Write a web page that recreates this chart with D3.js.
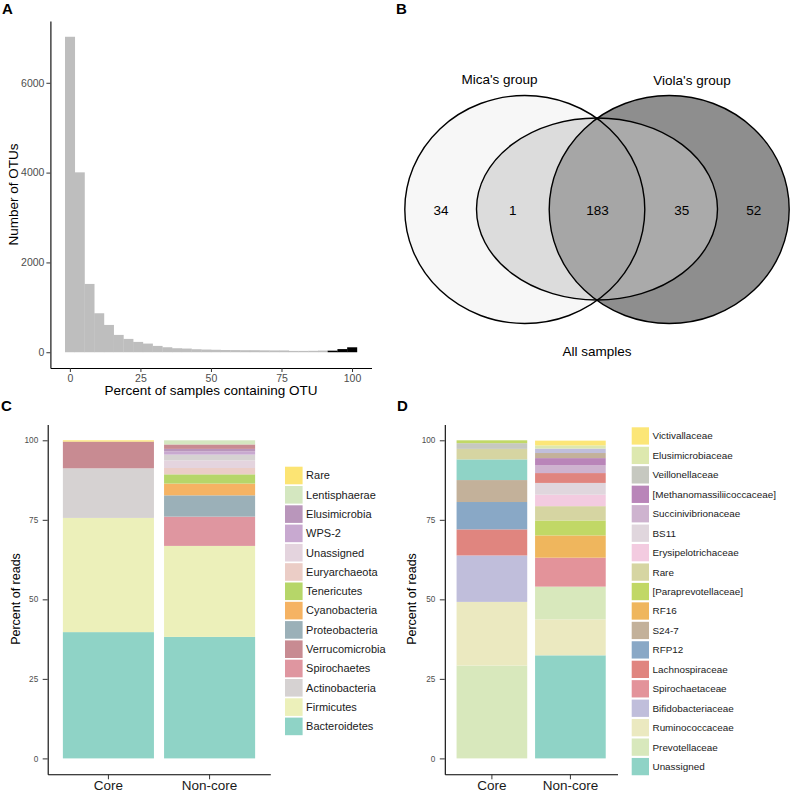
<!DOCTYPE html>
<html><head><meta charset="utf-8">
<script src="https://cdn.jsdelivr.net/npm/d3@7"></script>
<style>
html,body{margin:0;padding:0;background:#fff;}
svg{display:block;font-family:"Liberation Sans",Arial,sans-serif;}
</style></head>
<body>
<svg id="fig" width="792" height="792"></svg>
<script>
// ---------- DATA ----------
// Panel A: histogram (30 bins)
const binCenters = [0,3.45,6.9,10.34,13.79,17.24,20.69,24.14,27.59,31.03,34.48,37.93,41.38,44.83,48.28,51.72,55.17,58.62,62.07,65.52,68.97,72.41,75.86,79.31,82.76,86.21,89.66,93.1,96.55,100];
const binWidth = 3.448;
const binCounts = [7025,4006,1521,868,608,386,297,230,193,141,111,89,82,67,60,55,50,48,45,45,42,40,40,30,30,32,37,35,70,110];
const binCore = [0,0,0,0,0,0,0,0,0,0,0,0,0,0,0,0,0,0,0,0,0,0,0,0,0,0,0,1,1,1];
const histXTicks = [0,25,50,75,100];
const histYTicks = [0,2000,4000,6000];

// Panel B: Venn
const vennSets = ["Mica's group","All samples","Viola's group"];
const vennRegions = ["Mica only","Mica & All","Mica & All & Viola","All & Viola","Viola only"];
const vennCounts = [34,1,183,35,52];

// Panel C: phylum composition
const groups = ["Core","Non-core"];
const phylumLegend = ["Rare","Lentisphaerae","Elusimicrobia","WPS-2","Unassigned","Euryarchaeota","Tenericutes","Cyanobacteria","Proteobacteria","Verrucomicrobia","Spirochaetes","Actinobacteria","Firmicutes","Bacteroidetes"];
const phylumColors = ["#fce473","#d4e7c0","#b996bb","#c8a9d0","#e4d4de","#ebcdc6","#b6d669","#f5b363","#9bb0b8","#c88b92","#df96a0","#d6d2d2","#ecf0ba","#8fd3c6"];
const phylumCoreTaxa = ["Bacteroidetes","Firmicutes","Actinobacteria","Verrucomicrobia","Rare"];
const phylumCoreVals = [39.7,35.9,15.6,8.4,0.4];
const phylumNonTaxa = ["Bacteroidetes","Firmicutes","Spirochaetes","Proteobacteria","Cyanobacteria","Tenericutes","Euryarchaeota","Unassigned","Actinobacteria","WPS-2","Elusimicrobia","Verrucomicrobia","Lentisphaerae"];
const phylumNonVals = [38.2,28.6,9.2,6.7,3.7,2.9,2.0,2.4,1.8,1.0,0.8,1.4,1.3];

// Panel D: family composition
const familyLegend = ["Victivallaceae","Elusimicrobiaceae","Veillonellaceae","[Methanomassiliicoccaceae]","Succinivibrionaceae","BS11","Erysipelotrichaceae","Rare","[Paraprevotellaceae]","RF16","S24-7","RFP12","Lachnospiraceae","Spirochaetaceae","Bifidobacteriaceae","Ruminococcaceae","Prevotellaceae","Unassigned"];
const familyColors = ["#fce677","#dde8ae","#c6c8c0","#b985b9","#ceb3cf","#e0d6dd","#f3cbe0","#d6d5a2","#c1d866","#efb65d","#c3b19a","#89a8c6","#e0857f","#e3939a","#c0bedb","#ebe9c0","#d8e8bc","#8fd3c6"];
const familyCoreTaxa = ["Prevotellaceae","Ruminococcaceae","Bifidobacteriaceae","Lachnospiraceae","RFP12","S24-7","Unassigned","Rare","Veillonellaceae","[Paraprevotellaceae]"];
const familyCoreVals = [29.2,20.0,14.6,8.2,8.6,6.9,6.5,3.3,1.8,0.9];
const familyNonTaxa = ["Unassigned","Ruminococcaceae","Prevotellaceae","Spirochaetaceae","RF16","[Paraprevotellaceae]","Rare","Erysipelotrichaceae","BS11","Lachnospiraceae","Succinivibrionaceae","[Methanomassiliicoccaceae]","S24-7","Bifidobacteriaceae","Elusimicrobiaceae","Victivallaceae"];
const familyNonVals = [32.4,11.3,10.3,9.1,7.0,4.7,4.5,3.6,3.7,3.1,2.4,2.3,1.6,1.4,1.0,1.5];
const pctTicks = [0,25,50,75,100];

// ---------- DRAW ----------
const svg = d3.select("#fig");
const TICKTXT = "#4d4d4d", TICKCOL = "#333333";

function styleAxis(g, fs){
  g.select(".domain").attr("stroke","#000").attr("stroke-width",1.1);
  g.selectAll(".tick line").attr("stroke",TICKCOL).attr("stroke-width",1);
  g.selectAll(".tick text").attr("fill",TICKTXT).style("font-size",fs+"px").style("font-family","'Liberation Sans',Arial,sans-serif");
}
function panelLabel(t,x,y){
  svg.append("text").attr("x",x).attr("y",y).text(t)
    .style("font-size","15px").style("font-weight","bold").attr("fill","#000");
}

// ---- Panel A ----
(function(){
  const x = d3.scaleLinear().domain([-6.9,106.9]).range([50.4,371.5]);
  const y = d3.scaleLinear().domain([-351,7376]).range([368,21]);
  const g = svg.append("g");
  g.selectAll("rect.bar").data(binCounts).join("rect")
    .attr("x",(d,i)=>x(binCenters[i]-binWidth/2))
    .attr("width",(d,i)=>x(binCenters[i]+binWidth/2)-x(binCenters[i]-binWidth/2)+0.3)
    .attr("y",d=>y(d))
    .attr("height",d=>y(0)-y(d))
    .attr("fill",(d,i)=>binCore[i]?"#000000":"#bebebe");
  const ax = g.append("g").attr("transform","translate(0,368)")
    .call(d3.axisBottom(x).tickValues(histXTicks).tickFormat(d3.format("d")).tickSize(4).tickPadding(3).tickSizeOuter(0));
  styleAxis(ax,10.5);
  const ay = g.append("g").attr("transform","translate(50.4,0)")
    .call(d3.axisLeft(y).tickValues(histYTicks).tickFormat(d3.format("d")).tickSize(4).tickPadding(2).tickSizeOuter(0));
  styleAxis(ay,10.5);
  g.append("text").attr("x",211).attr("y",395).attr("text-anchor","middle")
    .style("font-size","13.5px").text("Percent of samples containing OTU");
  g.append("text").attr("transform","translate(18,194.5) rotate(-90)").attr("text-anchor","middle")
    .style("font-size","13.5px").text("Number of OTUs");
  panelLabel("A",2,14);
})();

// ---- Panel B ----
(function(){
  const g = svg.append("g");
  const L = {cx:524.8, cy:209.5, rx:120, ry:114};
  const R = {cx:669.2, cy:209.5, rx:120, ry:114};
  const M = {cx:597, cy:209, rx:120.5, ry:91};
  const defs = svg.append("defs");
  defs.append("clipPath").attr("id","clipL").append("ellipse").attr("cx",L.cx).attr("cy",L.cy).attr("rx",L.rx).attr("ry",L.ry);
  defs.append("clipPath").attr("id","clipR").append("ellipse").attr("cx",R.cx).attr("cy",R.cy).attr("rx",R.rx).attr("ry",R.ry);
  const ell = (e,fill,clip)=>{
    const el = g.append("ellipse").attr("cx",e.cx).attr("cy",e.cy).attr("rx",e.rx).attr("ry",e.ry).attr("fill",fill).attr("stroke","none");
    if(clip) el.attr("clip-path","url(#"+clip+")");
  };
  ell(L,"#f7f7f7");
  ell(R,"#8e8e8e");
  ell(M,"#dcdcdc","clipL");
  ell(M,"#aaaaaa","clipR");
  ell(L,"#a6a6a6","clipR");
  [L,M,R].forEach(e=>g.append("ellipse").attr("cx",e.cx).attr("cy",e.cy).attr("rx",e.rx).attr("ry",e.ry)
    .attr("fill","none").attr("stroke","#000").attr("stroke-width",1.4));
  const rx = [441,512.7,597.5,681.7,753.7];
  g.selectAll("text.cnt").data(vennCounts).join("text")
    .attr("x",(d,i)=>rx[i]).attr("y",215).attr("text-anchor","middle")
    .style("font-size","13.5px").attr("fill","#000").text(d=>d);
  const setPos = [[499.5,83.5],[597,356],[692,84.5]];
  g.selectAll("text.set").data(vennSets).join("text")
    .attr("x",(d,i)=>setPos[i][0]).attr("y",(d,i)=>setPos[i][1]).attr("text-anchor","middle")
    .style("font-size","13.5px").attr("fill","#000").text(d=>d);
  panelLabel("B",396,14);
})();

// ---- Stacked bars ----
function stackPanel(opts){
  const g = svg.append("g");
  const x = d3.scaleBand().domain(groups).range(opts.xr).paddingInner(0.1).paddingOuter(0.15);
  const y = d3.scaleLinear().domain([-5,105]).range([774.3,424.4]);
  const color = d3.scaleOrdinal().domain(opts.legend).range(opts.colors);
  const bars = [[opts.coreTaxa,opts.coreVals],[opts.nonTaxa,opts.nonVals]];
  bars.forEach((b,bi)=>{
    let cum = 0;
    const segs = b[0].map((t,i)=>{const s={taxon:t,y0:cum,y1:cum+b[1][i]}; cum+=b[1][i]; return s;});
    g.selectAll(null).data(segs).join("rect")
      .attr("x",x(groups[bi])).attr("width",x.bandwidth())
      .attr("y",d=>y(d.y1)).attr("height",d=>y(d.y0)-y(d.y1))
      .attr("fill",d=>color(d.taxon));
  });
  const ax = g.append("g").attr("transform","translate(0,774.3)")
    .call(d3.axisBottom(x).tickSize(5).tickPadding(1.5).tickSizeOuter(0));
  styleAxis(ax,13.5);
  ax.selectAll(".tick text").attr("fill","#1a1a1a");
  const ay = g.append("g").attr("transform","translate("+opts.xr[0]+",0)")
    .call(d3.axisLeft(y).tickValues(pctTicks).tickSize(5).tickPadding(4.5).tickSizeOuter(0));
  styleAxis(ay,8.2);
  g.append("text").attr("transform","translate("+opts.ytx+",599) rotate(-90)").attr("text-anchor","middle")
    .style("font-size","12.5px").text("Percent of reads");
  // legend
  const lg = g.append("g");
  opts.legend.forEach((name,i)=>{
    const yy = opts.lgTop + i*opts.lgStep;
    lg.append("rect").attr("x",opts.lgX).attr("y",yy).attr("width",opts.sw).attr("height",opts.sw).attr("fill",color(name));
    lg.append("text").attr("x",opts.lgX+opts.sw+3.5).attr("y",yy+opts.sw/2).attr("dy","0.35em")
      .style("font-size",opts.lgFs+"px").attr("fill","#1a1a1a").text(name);
  });
}
stackPanel({xr:[47.7,270.3], coreTaxa:phylumCoreTaxa, coreVals:phylumCoreVals, nonTaxa:phylumNonTaxa, nonVals:phylumNonVals,
  legend:phylumLegend, colors:phylumColors, ytx:20, lgX:285, lgTop:466.7, lgStep:19.3, sw:17.6, lgFs:11});
stackPanel({xr:[444.8,617.5], coreTaxa:familyCoreTaxa, coreVals:familyCoreVals, nonTaxa:familyNonTaxa, nonVals:familyNonVals,
  legend:familyLegend, colors:familyColors, ytx:416, lgX:631.7, lgTop:427.3, lgStep:19.45, sw:17.3, lgFs:9.9});
panelLabel("C",1,411);
panelLabel("D",397,411);
</script>
</body></html>
